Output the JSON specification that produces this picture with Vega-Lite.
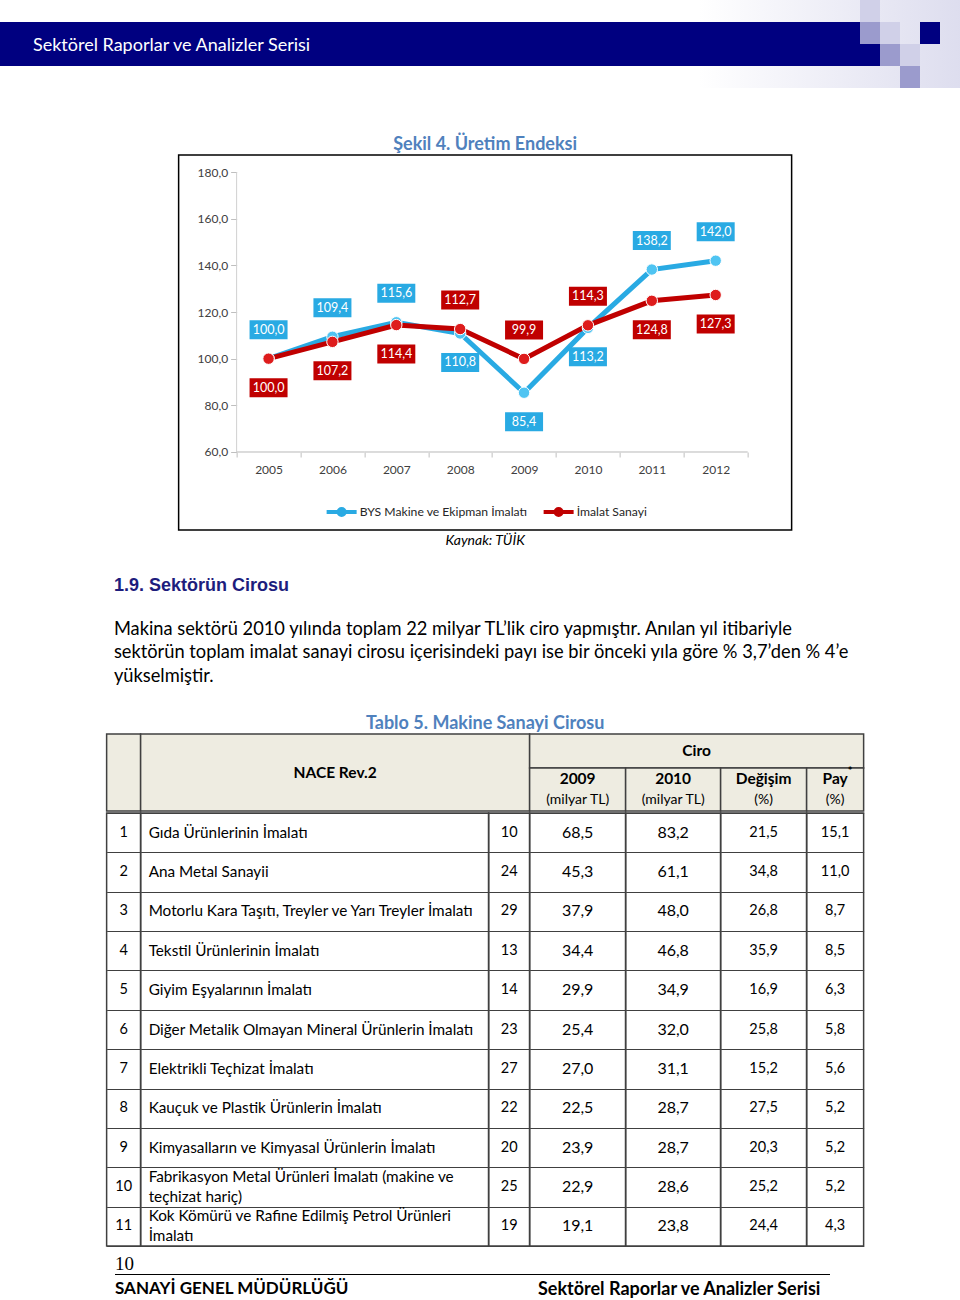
{
"$schema": "https://vega.github.io/schema/vega-lite/v6.json",
"background": "white",
"padding": 0,
"spacing": 0,
"center": true,
"resolve": {"scale": {"color": "independent", "fill": "independent", "x": "independent", "y": "independent"}, "legend": {"color": "independent", "fill": "independent"}},
"config": {
  "font": "Lato",
  "locale": {"number": {"decimal": ",", "thousands": ".", "grouping": [3], "currency": ["", " TL"]}},
  "view": {"stroke": null},
  "concat": {"spacing": 0},
  "text": {"font": "Lato", "color": "#000000"}
},
"datasets": {
  "deco": [
    {"x0": 0, "x1": 43, "y0": 1, "y1": 2, "tone": "navy"},
    {"x0": 0, "x1": 44, "y0": 2, "y1": 3, "tone": "navy"},
    {"x0": 43, "x1": 44, "y0": 1, "y1": 2, "tone": "mid"},
    {"x0": 44, "x1": 45, "y0": 2, "y1": 3, "tone": "mid"},
    {"x0": 45, "x1": 46, "y0": 3, "y1": 4, "tone": "mid"},
    {"x0": 43, "x1": 44, "y0": 0, "y1": 1, "tone": "pale"},
    {"x0": 44, "x1": 45, "y0": 1, "y1": 2, "tone": "pale"},
    {"x0": 45, "x1": 46, "y0": 2, "y1": 3, "tone": "pale"},
    {"x0": 46, "x1": 47, "y0": 1, "y1": 2, "tone": "navy"}
  ],
  "prod": [
    {"year": "2005", "series": "BYS Makine ve Ekipman İmalatı", "value": 100.0},
    {"year": "2006", "series": "BYS Makine ve Ekipman İmalatı", "value": 109.4},
    {"year": "2007", "series": "BYS Makine ve Ekipman İmalatı", "value": 115.6},
    {"year": "2008", "series": "BYS Makine ve Ekipman İmalatı", "value": 110.8},
    {"year": "2009", "series": "BYS Makine ve Ekipman İmalatı", "value": 85.4},
    {"year": "2010", "series": "BYS Makine ve Ekipman İmalatı", "value": 113.2},
    {"year": "2011", "series": "BYS Makine ve Ekipman İmalatı", "value": 138.2},
    {"year": "2012", "series": "BYS Makine ve Ekipman İmalatı", "value": 142.0},
    {"year": "2005", "series": "İmalat Sanayi", "value": 100.0},
    {"year": "2006", "series": "İmalat Sanayi", "value": 107.2},
    {"year": "2007", "series": "İmalat Sanayi", "value": 114.4},
    {"year": "2008", "series": "İmalat Sanayi", "value": 112.7},
    {"year": "2009", "series": "İmalat Sanayi", "value": 99.9},
    {"year": "2010", "series": "İmalat Sanayi", "value": 114.3},
    {"year": "2011", "series": "İmalat Sanayi", "value": 124.8},
    {"year": "2012", "series": "İmalat Sanayi", "value": 127.3}
  ],
  "sub": [
    {"col": "2009", "line": "a", "t": "2009"},
    {"col": "2009", "line": "b", "t": "(milyar TL)"},
    {"col": "2010", "line": "a", "t": "2010"},
    {"col": "2010", "line": "b", "t": "(milyar TL)"},
    {"col": "deg", "line": "a", "t": "Değişim"},
    {"col": "deg", "line": "b", "t": "(%)"},
    {"col": "pay", "line": "a", "t": "Pay", "sup": "*"},
    {"col": "pay", "line": "b", "t": "(%)"}
  ],
  "tab": [
    {"no": 1, "name": "Gıda Ürünlerinin İmalatı", "code": 10, "v2009": 68.5, "v2010": 83.2, "deg": 21.5, "pay": 15.1},
    {"no": 2, "name": "Ana Metal Sanayii", "code": 24, "v2009": 45.3, "v2010": 61.1, "deg": 34.8, "pay": 11.0},
    {"no": 3, "name": "Motorlu Kara Taşıtı, Treyler ve Yarı Treyler İmalatı", "code": 29, "v2009": 37.9, "v2010": 48.0, "deg": 26.8, "pay": 8.7},
    {"no": 4, "name": "Tekstil Ürünlerinin İmalatı", "code": 13, "v2009": 34.4, "v2010": 46.8, "deg": 35.9, "pay": 8.5},
    {"no": 5, "name": "Giyim Eşyalarının İmalatı", "code": 14, "v2009": 29.9, "v2010": 34.9, "deg": 16.9, "pay": 6.3},
    {"no": 6, "name": "Diğer Metalik Olmayan Mineral Ürünlerin İmalatı", "code": 23, "v2009": 25.4, "v2010": 32.0, "deg": 25.8, "pay": 5.8},
    {"no": 7, "name": "Elektrikli Teçhizat İmalatı", "code": 27, "v2009": 27.0, "v2010": 31.1, "deg": 15.2, "pay": 5.6},
    {"no": 8, "name": "Kauçuk ve Plastik Ürünlerin İmalatı", "code": 22, "v2009": 22.5, "v2010": 28.7, "deg": 27.5, "pay": 5.2},
    {"no": 9, "name": "Kimyasalların ve Kimyasal Ürünlerin İmalatı", "code": 20, "v2009": 23.9, "v2010": 28.7, "deg": 20.3, "pay": 5.2},
    {"no": 10, "name": "Fabrikasyon Metal Ürünleri İmalatı (makine ve\nteçhizat hariç)", "code": 25, "v2009": 22.9, "v2010": 28.6, "deg": 25.2, "pay": 5.2},
    {"no": 11, "name": "Kok Kömürü ve Rafine Edilmiş Petrol Ürünleri\nİmalatı", "code": 19, "v2009": 19.1, "v2010": 23.8, "deg": 24.4, "pay": 4.3}
  ]
},
"vconcat": [
  {
    "width": 971, "height": 88,
    "view": {"stroke": null, "fill": {"gradient": "linear", "x1": 0, "x2": 1, "y1": 0, "y2": 0, "stops": [{"offset": 0, "color": "#ffffff"}, {"offset": 0.72, "color": "#ffffff"}, {"offset": 1, "color": "#dcdcee"}]}},
    "layer": [
      {
        "data": {"name": "deco"},
        "mark": {"type": "rect"},
        "encoding": {
          "x": {"field": "x0", "type": "quantitative", "scale": {"domain": [0, 48.55], "nice": false, "zero": false}, "axis": null},
          "x2": {"field": "x1"},
          "y": {"field": "y0", "type": "quantitative", "scale": {"domain": [0, 4], "nice": false, "reverse": true}, "axis": null},
          "y2": {"field": "y1"},
          "color": {"field": "tone", "type": "nominal", "scale": {"domain": ["navy", "mid", "pale"], "range": ["#000080", "#9b9bcd", "#d0d0e8"]}, "legend": null}
        }
      },
      {
        "data": {"values": [{"label": "Sektörel Raporlar ve Analizler Serisi"}]},
        "mark": {"type": "text", "align": "left", "baseline": "middle", "color": "#ffffff", "fontSize": 18, "font": "Lato"},
        "encoding": {
          "text": {"field": "label"},
          "x": {"datum": 1.65, "type": "quantitative"},
          "y": {"datum": 2.1, "type": "quantitative"}
        }
      }
    ]
  },
  {"width": 1, "height": 48, "data": {"values": []}, "mark": "point"},
  {
    "title": {"text": "Şekil 4. Üretim Endeksi", "anchor": "middle", "font": "Lato", "fontSize": 18, "fontWeight": "bold", "color": "#4f81bd", "offset": 0},
    "vconcat": [
      {
        "width": 613, "height": 375,
        "view": {"stroke": "#000000", "strokeWidth": 1.5},
        "title": {"text": "Kaynak:  TÜİK", "orient": "bottom", "anchor": "middle", "font": "Lato", "fontStyle": "italic", "fontWeight": "normal", "fontSize": 14, "color": "#000000", "offset": 4},
        "data": {"name": "prod"},
        "transform": [
          {"window": [{"op": "row_number", "as": "rk"}], "groupby": ["year"], "sort": [{"field": "value", "order": "descending"}, {"field": "series", "order": "ascending"}]}
        ],
        "encoding": {
          "x": {"field": "year", "type": "ordinal", "scale": {"type": "band", "paddingInner": 0, "paddingOuter": 0.7984, "align": 0.5686},
                "axis": {"title": null, "offset": -78, "domain": false, "tickBand": "extent", "tickSize": 5, "tickColor": "#bfbfbf", "labelAngle": 0, "labelFont": "Lato", "labelFontSize": 12, "labelColor": "#404040", "labelPadding": 7, "grid": false}},
          "y": {"field": "value", "type": "quantitative", "scale": {"domain": [26.57, 187.29], "nice": false, "zero": false},
                "axis": {"title": null, "offset": -58, "domain": false, "values": [60, 80, 100, 120, 140, 160, 180], "format": ".1f", "tickSize": 6, "tickColor": "#bfbfbf", "labelFont": "Lato", "labelFontSize": 12, "labelColor": "#404040", "labelPadding": 3, "grid": false}}
        },
        "layer": [
          {
            "transform": [{"filter": "datum.year == '2005' && datum.rk == 1"}],
            "mark": {"type": "rule", "color": "#d0d0d0", "strokeWidth": 1},
            "encoding": {"x": {"field": "year", "type": "ordinal", "bandPosition": 0}, "y": {"datum": 60}, "y2": {"datum": 180}}
          },
          {
            "transform": [{"filter": "datum.rk == 1"}],
            "mark": {"type": "rect", "fill": "transparent", "stroke": "#d0d0d0", "strokeWidth": 1},
            "encoding": {"y": {"datum": 60}, "y2": {"datum": 60}}
          },
          {
            "mark": {"type": "line", "strokeWidth": 5},
            "encoding": {
              "color": {"field": "series", "type": "nominal", "title": null,
                "scale": {"domain": ["BYS Makine ve Ekipman İmalatı", "İmalat Sanayi"], "range": ["#29aae3", "#c00000"]},
                "legend": {"orient": "none", "legendX": 146, "legendY": 340, "direction": "horizontal", "labelFont": "Lato", "labelFontSize": 12.2, "labelColor": "#262626", "labelLimit": 400, "symbolType": "M-1,0H1M-0.2,0A0.2,0.2,0,1,1,0.2,0A0.2,0.2,0,1,1,-0.2,0Z", "symbolSize": 900, "symbolStrokeWidth": 4, "columnPadding": 8, "labelOffset": 1}}
            }
          },
          {
            "mark": {"type": "point", "filled": true, "size": 130, "stroke": "#ffffff", "strokeWidth": 1, "opacity": 1},
            "encoding": {
              "fill": {"field": "series", "type": "nominal", "scale": {"domain": ["BYS Makine ve Ekipman İmalatı", "İmalat Sanayi"], "range": ["#4fc4f2", "#de1c1c"]}, "legend": null}
            }
          },
          {
            "transform": [{"filter": "datum.rk == 1"}],
            "mark": {"type": "point", "shape": "M-1,-0.5H1V0.5H-1Z", "size": 1444, "filled": true, "opacity": 1, "strokeWidth": 0, "yOffset": -29},
            "encoding": {
              "color": {"field": "series", "type": "nominal", "title": null,
                "scale": {"domain": ["BYS Makine ve Ekipman İmalatı", "İmalat Sanayi"], "range": ["#29aae3", "#c00000"]},
                "legend": {"orient": "none", "legendX": 146, "legendY": 340, "direction": "horizontal", "labelFont": "Lato", "labelFontSize": 12.2, "labelColor": "#262626", "labelLimit": 400, "symbolType": "M-1,0H1M-0.2,0A0.2,0.2,0,1,1,0.2,0A0.2,0.2,0,1,1,-0.2,0Z", "symbolSize": 900, "symbolStrokeWidth": 4, "columnPadding": 8, "labelOffset": 1}}
            }
          },
          {
            "transform": [{"filter": "datum.rk == 2"}],
            "mark": {"type": "point", "shape": "M-1,-0.5H1V0.5H-1Z", "size": 1444, "filled": true, "opacity": 1, "strokeWidth": 0, "yOffset": 29},
            "encoding": {
              "color": {"field": "series", "type": "nominal", "title": null,
                "scale": {"domain": ["BYS Makine ve Ekipman İmalatı", "İmalat Sanayi"], "range": ["#29aae3", "#c00000"]},
                "legend": {"orient": "none", "legendX": 146, "legendY": 340, "direction": "horizontal", "labelFont": "Lato", "labelFontSize": 12.2, "labelColor": "#262626", "labelLimit": 400, "symbolType": "M-1,0H1M-0.2,0A0.2,0.2,0,1,1,0.2,0A0.2,0.2,0,1,1,-0.2,0Z", "symbolSize": 900, "symbolStrokeWidth": 4, "columnPadding": 8, "labelOffset": 1}}
            }
          },
          {
            "transform": [{"filter": "datum.rk == 1"}],
            "mark": {"type": "text", "color": "#ffffff", "fontSize": 12.5, "font": "Lato", "baseline": "middle", "yOffset": -29},
            "encoding": {"text": {"field": "value", "type": "quantitative", "format": ".1f"}}
          },
          {
            "transform": [{"filter": "datum.rk == 2"}],
            "mark": {"type": "text", "color": "#ffffff", "fontSize": 12.5, "font": "Lato", "baseline": "middle", "yOffset": 29},
            "encoding": {"text": {"field": "value", "type": "quantitative", "format": ".1f"}}
          }
        ]
      }
    ]
  },
  {"width": 1, "height": 27, "data": {"values": []}, "mark": "point"},
  {
    "title": {"text": "1.9. Sektörün Cirosu", "subtitle": ["Makina sektörü 2010 yılında toplam 22 milyar TL’lik ciro yapmıştır. Anılan yıl itibariyle", "sektörün toplam imalat sanayi cirosu içerisindeki payı ise bir önceki yıla göre % 3,7’den % 4’e", "yükselmiştir."], "anchor": "start", "dx": 8, "font": "Liberation Sans", "fontSize": 18, "fontWeight": "bold", "color": "#1d1d7d", "subtitleFont": "Lato", "subtitleFontSize": 18.3, "subtitleColor": "#000000", "subtitleLineHeight": 23.5, "subtitlePadding": 26, "offset": 30},
    "vconcat": [
      {
        "title": {"text": "Tablo 5. Makine Sanayi Cirosu", "anchor": "middle", "font": "Lato", "fontSize": 18, "fontWeight": "bold", "color": "#4f81bd", "offset": 0},
        "spacing": 0,
        "vconcat": [
          {
            "bounds": "flush",
            "spacing": 0,
            "hconcat": [
              {"width": 34, "height": 77, "view": {"fill": "#eeece1", "stroke": "#404040", "strokeWidth": 1.5}, "data": {"values": [{"t": ""}]}, "mark": {"type": "text"}, "encoding": {"text": {"field": "t"}}},
              {"width": 389, "height": 77, "view": {"fill": "#eeece1", "stroke": "#404040", "strokeWidth": 1.5}, "data": {"values": [{"t": "NACE Rev.2"}]}, "mark": {"type": "text", "fontWeight": "bold", "fontSize": 15.5}, "encoding": {"text": {"field": "t"}}},
              {
                "bounds": "flush",
                "spacing": 0,
                "vconcat": [
                  {"width": 334, "height": 34, "view": {"fill": "#eeece1", "stroke": "#404040", "strokeWidth": 1.5}, "data": {"values": [{"t": "Ciro"}]}, "mark": {"type": "text", "fontWeight": "bold", "fontSize": 15.5}, "encoding": {"text": {"field": "t"}}},
                  {
                    "bounds": "flush",
                    "spacing": 0,
                    "hconcat": [
                      {"width": 96, "height": 43, "view": {"fill": "#eeece1", "stroke": "#404040", "strokeWidth": 1.5}, "data": {"name": "sub"}, "transform": [{"filter": "datum.col == '2009'"}],
                        "encoding": {"y": {"field": "line", "type": "nominal", "axis": null}, "text": {"field": "t"}},
                        "layer": [
                          {"transform": [{"filter": "datum.line == 'a'"}], "mark": {"type": "text", "fontWeight": "bold", "fontSize": 15.5}},
                          {"transform": [{"filter": "datum.line == 'b'"}], "mark": {"type": "text", "fontSize": 14}}
                        ]},
                      {"width": 95, "height": 43, "view": {"fill": "#eeece1", "stroke": "#404040", "strokeWidth": 1.5}, "data": {"name": "sub"}, "transform": [{"filter": "datum.col == '2010'"}],
                        "encoding": {"y": {"field": "line", "type": "nominal", "axis": null}, "text": {"field": "t"}},
                        "layer": [
                          {"transform": [{"filter": "datum.line == 'a'"}], "mark": {"type": "text", "fontWeight": "bold", "fontSize": 15.5}},
                          {"transform": [{"filter": "datum.line == 'b'"}], "mark": {"type": "text", "fontSize": 14}}
                        ]},
                      {"width": 86, "height": 43, "view": {"fill": "#eeece1", "stroke": "#404040", "strokeWidth": 1.5}, "data": {"name": "sub"}, "transform": [{"filter": "datum.col == 'deg'"}],
                        "encoding": {"y": {"field": "line", "type": "nominal", "axis": null}, "text": {"field": "t"}},
                        "layer": [
                          {"transform": [{"filter": "datum.line == 'a'"}], "mark": {"type": "text", "fontWeight": "bold", "fontSize": 15.5}},
                          {"transform": [{"filter": "datum.line == 'b'"}], "mark": {"type": "text", "fontSize": 14}}
                        ]},
                      {"width": 57, "height": 43, "view": {"fill": "#eeece1", "stroke": "#404040", "strokeWidth": 1.5}, "data": {"name": "sub"}, "transform": [{"filter": "datum.col == 'pay'"}],
                        "encoding": {"y": {"field": "line", "type": "nominal", "axis": null}},
                        "layer": [
                          {"transform": [{"filter": "datum.line == 'a'"}], "mark": {"type": "text", "fontWeight": "bold", "fontSize": 15.5}, "encoding": {"text": {"field": "t", "type": "nominal"}}},
                          {"transform": [{"filter": "isValid(datum.sup)"}], "mark": {"type": "text", "fontWeight": "bold", "fontSize": 11, "dx": 15, "dy": -7, "color": "#000000"}, "encoding": {"text": {"field": "sup", "type": "nominal"}}},
                          {"transform": [{"filter": "datum.line == 'b'"}], "mark": {"type": "text", "fontSize": 14}, "encoding": {"text": {"field": "t", "type": "nominal"}}}
                        ]}
                    ]
                  }
                ]
              }
            ]
          },
          {
            "bounds": "flush",
            "spacing": 0,
            "hconcat": [
              {"width": 34, "height": 433, "view": {"stroke": "#404040", "strokeWidth": 1.5}, "data": {"name": "tab"}, "mark": {"type": "text", "fontSize": 14.5},
                "encoding": {"y": {"field": "no", "type": "ordinal", "scale": {"type": "band", "paddingInner": 0, "paddingOuter": 0}, "axis": {"title": null, "labels": false, "ticks": false, "domain": false, "grid": true, "tickBand": "extent", "gridColor": "#404040", "gridWidth": 1.2, "minExtent": 0}}, "text": {"field": "no"}}},
              {"width": 348, "height": 433, "view": {"stroke": "#404040", "strokeWidth": 1.5}, "data": {"name": "tab"},
                "encoding": {"x": {"datum": 0, "type": "quantitative", "scale": {"domain": [0, 1]}, "axis": null}, "y": {"field": "no", "type": "ordinal", "scale": {"type": "band", "paddingInner": 0, "paddingOuter": 0}, "axis": {"title": null, "labels": false, "ticks": false, "domain": false, "grid": true, "tickBand": "extent", "gridColor": "#404040", "gridWidth": 1.2, "minExtent": 0}}, "text": {"field": "name"}},
                "layer": [
                  {"transform": [{"filter": "indexof(datum.name, '\\n') < 0"}], "mark": {"type": "text", "fontSize": 15.3, "align": "left", "dx": 8}},
                  {"transform": [{"filter": "indexof(datum.name, '\\n') >= 0"}], "mark": {"type": "text", "fontSize": 15.3, "align": "left", "dx": 8, "dy": -10, "lineBreak": "\n", "lineHeight": 20}}
                ]},
              {"width": 41, "height": 433, "view": {"stroke": "#404040", "strokeWidth": 1.5}, "data": {"name": "tab"}, "mark": {"type": "text", "fontSize": 14.5},
                "encoding": {"y": {"field": "no", "type": "ordinal", "scale": {"type": "band", "paddingInner": 0, "paddingOuter": 0}, "axis": {"title": null, "labels": false, "ticks": false, "domain": false, "grid": true, "tickBand": "extent", "gridColor": "#404040", "gridWidth": 1.2, "minExtent": 0}}, "text": {"field": "code"}}},
              {"width": 96, "height": 433, "view": {"stroke": "#404040", "strokeWidth": 1.5}, "data": {"name": "tab"}, "mark": {"type": "text", "fontSize": 16},
                "encoding": {"y": {"field": "no", "type": "ordinal", "scale": {"type": "band", "paddingInner": 0, "paddingOuter": 0}, "axis": {"title": null, "labels": false, "ticks": false, "domain": false, "grid": true, "tickBand": "extent", "gridColor": "#404040", "gridWidth": 1.2, "minExtent": 0}}, "text": {"field": "v2009", "type": "quantitative", "format": ".1f"}}},
              {"width": 95, "height": 433, "view": {"stroke": "#404040", "strokeWidth": 1.5}, "data": {"name": "tab"}, "mark": {"type": "text", "fontSize": 16},
                "encoding": {"y": {"field": "no", "type": "ordinal", "scale": {"type": "band", "paddingInner": 0, "paddingOuter": 0}, "axis": {"title": null, "labels": false, "ticks": false, "domain": false, "grid": true, "tickBand": "extent", "gridColor": "#404040", "gridWidth": 1.2, "minExtent": 0}}, "text": {"field": "v2010", "type": "quantitative", "format": ".1f"}}},
              {"width": 86, "height": 433, "view": {"stroke": "#404040", "strokeWidth": 1.5}, "data": {"name": "tab"}, "mark": {"type": "text", "fontSize": 14.5},
                "encoding": {"y": {"field": "no", "type": "ordinal", "scale": {"type": "band", "paddingInner": 0, "paddingOuter": 0}, "axis": {"title": null, "labels": false, "ticks": false, "domain": false, "grid": true, "tickBand": "extent", "gridColor": "#404040", "gridWidth": 1.2, "minExtent": 0}}, "text": {"field": "deg", "type": "quantitative", "format": ".1f"}}},
              {"width": 57, "height": 433, "view": {"stroke": "#404040", "strokeWidth": 1.5}, "data": {"name": "tab"}, "mark": {"type": "text", "fontSize": 14.5},
                "encoding": {"y": {"field": "no", "type": "ordinal", "scale": {"type": "band", "paddingInner": 0, "paddingOuter": 0}, "axis": {"title": null, "labels": false, "ticks": false, "domain": false, "grid": true, "tickBand": "extent", "gridColor": "#404040", "gridWidth": 1.2, "minExtent": 0}}, "text": {"field": "pay", "type": "quantitative", "format": ".1f"}}}
            ]
          }
        ]
      }
    ]
  },
  {"width": 1, "height": 8, "data": {"values": []}, "mark": "point"},
  {
    "title": {"text": "10", "anchor": "start", "font": "Liberation Serif", "fontSize": 19, "fontWeight": "normal", "color": "#000000", "offset": 0},
    "spacing": 0,
    "hconcat": [
      {"width": 423, "height": 1, "view": {"fill": "#000000", "stroke": null}, "data": {"values": []}, "mark": "point",
        "title": {"text": "SANAYİ GENEL MÜDÜRLÜĞÜ", "orient": "bottom", "anchor": "start", "font": "Lato", "fontSize": 17, "fontWeight": "bold", "color": "#000000", "offset": 6}},
      {"width": 292, "height": 1, "view": {"fill": "#000000", "stroke": null}, "data": {"values": []}, "mark": "point",
        "title": {"text": "Sektörel Raporlar ve Analizler Serisi", "orient": "bottom", "anchor": "start", "font": "Lato", "fontSize": 18, "fontWeight": "bold", "color": "#000000", "offset": 6}},
      {"width": 26, "height": 1, "data": {"values": []}, "mark": "point"}
    ]
  }
]
}
